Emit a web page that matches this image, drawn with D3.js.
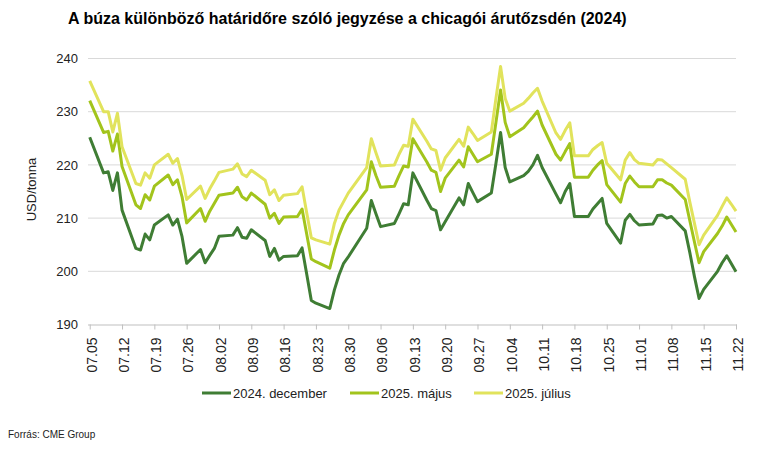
<!DOCTYPE html>
<html><head><meta charset="utf-8">
<script src="https://cdn.jsdelivr.net/npm/d3@7/dist/d3.min.js"></script>
<style>
body{margin:0;background:#fff;}
svg{display:block;font-family:"Liberation Sans",Arial,sans-serif;}
</style></head>
<body><svg id="c" width="769" height="449"></svg>
<script>
const title = "A búza különböző határidőre szóló jegyzése a chicagói árutőzsdén (2024)";
const yLabel = "USD/tonna";
const source = "Forrás: CME Group";
const seriesNames = ["2024. december", "2025. május", "2025. július"];
const seriesColors = ["#3f7d34", "#a2c41c", "#e1e35c"];
const tickLabels = ["07.05","07.12","07.19","07.26","08.02","08.09","08.16","08.23","08.30","09.06","09.13","09.20","09.27","10.04","10.11","10.18","10.25","11.01","11.08","11.15","11.22"];
const yTicks = [190, 200, 210, 220, 230, 240];

const dates = ["07-05","07-08","07-09","07-10","07-11","07-12","07-15","07-16","07-17","07-18","07-19","07-22","07-23","07-24","07-25","07-26","07-29","07-30","07-31","08-01","08-02","08-05","08-06","08-07","08-08","08-09","08-12","08-13","08-14","08-15","08-16","08-19","08-20","08-21","08-22","08-23","08-26","08-27","08-28","08-29","08-30","09-03","09-04","09-05","09-06","09-09","09-10","09-11","09-12","09-13","09-16","09-17","09-18","09-19","09-20","09-23","09-24","09-25","09-26","09-27","09-30","10-01","10-02","10-03","10-04","10-07","10-08","10-09","10-10","10-11","10-14","10-15","10-16","10-17","10-18","10-21","10-22","10-23","10-24","10-25","10-28","10-29","10-30","10-31","11-01","11-04","11-05","11-06","11-07","11-08","11-11","11-12","11-13","11-14","11-15","11-18","11-19","11-20","11-21","11-22"];

const dec2024 = [225.2,218.5,218.7,215.2,218.5,211.5,204.3,204.0,207.0,205.9,208.7,210.6,208.7,209.8,206.5,201.5,204.1,201.6,203.0,204.3,206.6,206.8,208.2,206.4,206.2,207.8,205.8,202.8,204.3,202.1,202.8,202.9,204.4,199.5,194.5,194.0,193.0,196.5,199.3,201.5,202.7,208.1,213.3,210.8,208.4,209.0,210.8,212.7,212.5,218.5,213.4,211.8,211.4,207.8,209.3,213.8,212.5,216.5,214.8,213.1,214.7,220.3,226.1,219.5,216.8,218.0,218.8,220.0,221.8,219.5,214.5,212.9,215.0,216.5,210.3,210.3,211.7,212.7,213.7,209.0,205.3,209.6,210.7,209.5,208.7,208.9,210.5,210.6,210.0,210.3,207.6,203.5,199.0,194.9,196.6,200.0,201.6,202.9,201.4,199.9];

const may2025 = [232.1,226.1,226.3,222.6,225.8,219.7,212.5,211.8,214.4,213.4,216.0,218.1,216.3,217.2,214.0,209.1,211.8,209.4,211.3,212.8,214.3,214.7,215.8,214.0,213.4,214.7,212.6,210.0,210.9,209.0,210.2,210.3,211.7,207.0,202.3,201.8,200.6,204.0,206.8,209.0,210.6,215.3,220.6,218.0,215.8,216.0,218.0,219.8,219.6,224.9,220.6,219.0,218.6,215.0,217.5,220.9,219.6,223.4,222.0,220.6,222.0,228.0,234.1,228.0,225.3,227.0,228.0,229.0,230.1,227.5,222.0,220.9,222.5,224.0,217.7,217.7,219.0,220.0,220.8,216.3,213.0,216.5,217.9,216.8,215.9,215.9,217.2,217.2,216.6,216.2,213.5,209.5,205.5,201.6,203.7,207.1,208.5,210.2,208.8,207.4];

const jul2025 = [235.8,230.0,230.0,226.2,229.7,223.4,216.5,216.2,218.5,217.5,220.0,222.0,220.3,221.2,218.0,213.5,216.0,213.7,215.5,217.0,218.6,219.2,220.2,218.3,217.8,219.0,217.1,214.4,215.3,213.3,214.3,214.6,215.9,211.0,206.3,205.9,205.1,209.0,211.5,213.1,214.7,219.5,224.9,222.3,219.8,220.0,222.0,223.7,223.5,228.6,224.5,223.0,222.7,219.0,221.3,224.8,223.5,227.1,225.9,224.6,226.2,232.5,238.5,232.5,230.1,231.6,232.5,233.5,234.4,232.0,226.0,224.8,226.5,227.9,221.7,221.7,222.9,223.6,224.2,220.3,217.2,220.9,222.3,221.0,220.3,220.0,221.0,220.9,220.2,219.5,217.3,213.0,209.0,205.0,206.8,210.5,212.2,213.8,212.6,211.3];

const series = [dec2024, may2025, jul2025];
const parseD = s => { const [m, d] = s.split(/[-.]/).map(Number); return new Date(2024, m - 1, d); };

const svg = d3.select("#c");
const x = d3.scaleTime()
  .domain([new Date(2024, 6, 4, 15), new Date(2024, 10, 22)])
  .range([88, 736]);
const y = d3.scaleLinear().domain([190, 240]).range([324.5, 58.5]);

// title
svg.append("text").attr("x", 68).attr("y", 24)
  .attr("font-size", 16).attr("font-weight", "bold").attr("fill", "#000")
  .text(title);

// grid
svg.append("g").selectAll("line").data(yTicks.filter(v => v > 190)).join("line")
  .attr("x1", 88).attr("x2", 736)
  .attr("y1", d => y(d)).attr("y2", d => y(d))
  .attr("stroke", "#d9d9d9").attr("stroke-width", 1);

// y axis labels
const yAxis = d3.axisLeft(y).tickValues(yTicks).tickSize(0).tickPadding(10);
const gy = svg.append("g").attr("transform", "translate(88,0)").call(yAxis);
gy.select(".domain").remove();
gy.selectAll("text").attr("font-size", 13).attr("fill", "#222")
  .attr("font-family", "Liberation Sans, Arial, sans-serif");

// x axis
const tickDates = tickLabels.map(parseD);
const xAxis = d3.axisBottom(x).tickValues(tickDates).tickSize(5).tickFormat((d, i) => tickLabels[i]);
const gx = svg.append("g").attr("transform", `translate(0,${y(190)})`).call(xAxis);
gx.select(".domain").attr("stroke", "#bfbfbf").attr("d", `M88,0.5H737`);
gx.selectAll(".tick line").attr("stroke", "#bfbfbf");
gx.selectAll(".tick text")
  .attr("font-size", 14).attr("fill", "#222")
  .attr("font-family", "Liberation Sans, Arial, sans-serif")
  .attr("text-anchor", "end")
  .attr("transform", "rotate(-90)")
  .attr("x", -13).attr("y", 1).attr("dy", "0.38em");

// y label
svg.append("text")
  .attr("transform", `translate(36,${(y(190) + y(240)) / 2 - 2}) rotate(-90)`)
  .attr("text-anchor", "middle").attr("font-size", 13).attr("fill", "#222")
  .text(yLabel);

// lines
const line = d3.line().x((d, i) => x(parseD(dates[i]))).y(d => y(d));
series.forEach((s, k) => {
  svg.append("path").datum(s)
    .attr("fill", "none").attr("stroke", seriesColors[k])
    .attr("stroke-width", 3).attr("stroke-linejoin", "round")
    .attr("d", line);
});

// legend
const legX = [202, 350, 474];
const lg = svg.append("g");
seriesNames.forEach((n, k) => {
  lg.append("line").attr("x1", legX[k]).attr("x2", legX[k] + 29)
    .attr("y1", 393).attr("y2", 393)
    .attr("stroke", seriesColors[k]).attr("stroke-width", 3);
  lg.append("text").attr("x", legX[k] + 31).attr("y", 397.5)
    .attr("font-size", 13).attr("fill", "#222").text(n);
});

// source
svg.append("text").attr("x", 8).attr("y", 438)
  .attr("font-size", 10).attr("fill", "#222").text(source);
</script></body></html>
